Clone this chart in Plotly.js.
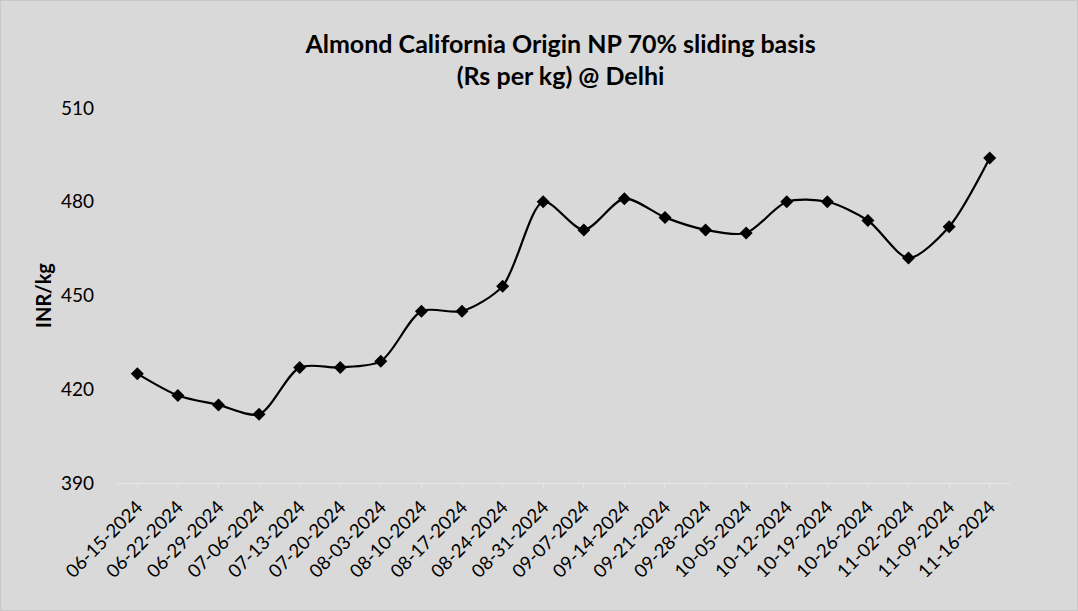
<!DOCTYPE html>
<html>
<head>
<meta charset="utf-8">
<script src="https://cdn.plot.ly/plotly-3.0.1.min.js"></script>
<style>
html,body{margin:0;padding:0;background:#d9d9d9;}
#chart{width:1076px;height:609px;border:1px solid #c8c8c8;}
</style>
</head>
<body>
<div id="chart"></div>
<script>
var dates = ["06-15-2024","06-22-2024","06-29-2024","07-06-2024","07-13-2024","07-20-2024","08-03-2024","08-10-2024","08-17-2024","08-24-2024","08-31-2024","09-07-2024","09-14-2024","09-21-2024","09-28-2024","10-05-2024","10-12-2024","10-19-2024","10-26-2024","11-02-2024","11-09-2024","11-16-2024"];
var prices = [425,418,415,412,427,427,429,445,445,453,480,471,481,475,471,470,480,480,474,462,472,494];
var yTicks = [390,420,450,480,510];

var font = "Lato, 'Open Sans', sans-serif";
Plotly.newPlot('chart', [{
  x: dates,
  y: prices,
  type: 'scatter',
  mode: 'lines+markers',
  line: {color: '#000000', width: 2.2, shape: 'spline', smoothing: 0.8},
  marker: {symbol: 'diamond', size: 10, color: '#000000'},
  hoverinfo: 'x+y'
}], {
  width: 1076, height: 609,
  paper_bgcolor: '#d9d9d9',
  plot_bgcolor: '#d9d9d9',
  margin: {l: 116, r: 67, t: 107, b: 127, autoexpand: false},
  showlegend: false,
  title: {
    text: '<b>Almond California Origin NP 70% sliding basis<br>(Rs per kg) @ Delhi</b>',
    font: {family: font, size: 25, color: '#000000'},
    x: 0.52, xanchor: 'center', yref: 'container', y: 0.915, yanchor: 'middle'
  },
  xaxis: {
    type: 'category',
    range: [-0.5, dates.length - 0.5],
    automargin: false,
    tickangle: -45,
    tickfont: {family: font, size: 18.5, color: '#000000'},
    showgrid: false,
    showline: true, linecolor: '#e6e6e6', linewidth: 1,
    ticks: 'outside', tickcolor: '#e6e6e6', ticklen: 5,
    zeroline: false
  },
  yaxis: {
    range: [390, 510],
    automargin: false,
    tickvals: yTicks,
    ticktext: yTicks.map(String),
    tickfont: {family: font, size: 19, color: '#000000'},
    showgrid: false, showline: false, zeroline: false,
    ticks: '', ticklabelstandoff: 22,
    title: {text: '<b>INR/kg</b>', font: {family: font, size: 20, color: '#000000'}, standoff: 3}
  }
}, {displayModeBar: false});
</script>
</body>
</html>
